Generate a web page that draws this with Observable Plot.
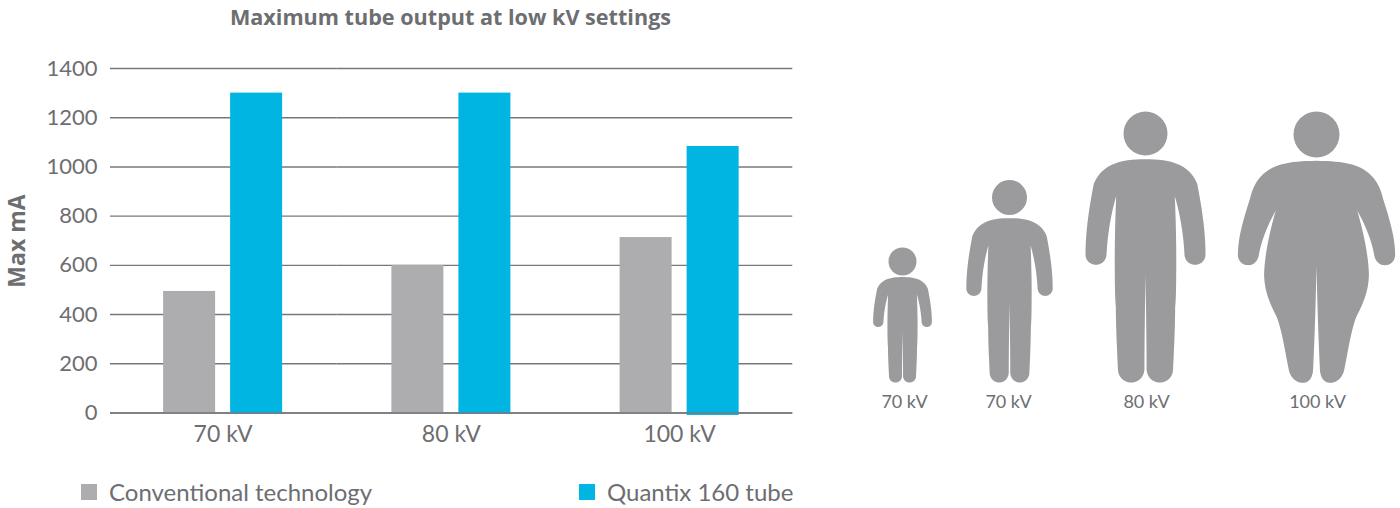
<!DOCTYPE html>
<html>
<head>
<meta charset="utf-8">
<script src="https://cdn.jsdelivr.net/npm/d3@7"></script>
<script src="https://cdn.jsdelivr.net/npm/@observablehq/plot@0.6"></script>
<style>
  html,body{margin:0;padding:0;background:#fff;}
  body{width:1400px;height:508px;position:relative;overflow:hidden;font-family:Lato,"Noto Sans",sans-serif;color:#6d6e71;}
  #title{position:absolute;left:0;top:4px;width:901px;text-align:center;font-family:"Open Sans",sans-serif;font-weight:700;font-size:21.6px;line-height:26px;color:#6d6e71;}
  #ylabel{position:absolute;left:5px;top:241px;transform:translate(0,-50%) rotate(180deg);writing-mode:vertical-rl;font-family:"Open Sans",sans-serif;font-weight:700;font-size:23px;color:#6d6e71;line-height:22px;}
  #row{position:absolute;left:0;top:36px;display:flex;}
  #row svg{display:block;}
  .lg{position:absolute;top:478px;display:flex;align-items:center;font-size:24px;line-height:28px;color:#6d6e71;}
  .lg i{display:block;width:16px;height:16px;margin-right:12px;}
</style>
</head>
<body>
<div id="title"></div>
<div id="ylabel"></div>
<div id="row"></div>
<div id="legend"></div>
<script>
const chartTitle = "Maximum tube output at low kV settings";
const yTitle = "Max mA";
const categories = ["70 kV", "80 kV", "100 kV"];
const seriesNames = ["Conventional technology", "Quantix 160 tube"];
const conventional = [494, 600, 713];
const quantix = [1300, 1300, 1083];
const quantixBase = [-5, -5, -10];
const yTicks = [0, 200, 400, 600, 800, 1000, 1200, 1400];
const seriesColors = ["#adadb0", "#00b5e2"];
const textColor = "#6d6e71";
const figureColor = "#9b9b9d";

// Pictogram outlines (half-figure, mirrored)
const slimHalf = [[0,176],
 [60,176,125,185,150,250],[163,320,174,390,174,462],[174,480,160,493,144,493],
 [127,493,114,480,113,462],[110,400,100,340,85,287],[88,360,90,450,89,520],
 [89,560,88,600,86,620],[86,680,82,760,80,805],[80,830,62,846,42,846],
 [20,846,4,830,3,805],[3,700,1,600,0,520]];
const fatHalf = [[0,181],
 [70,181,120,190,150,217],[175,238,186,265,193,295],[210,350,228,410,228,462],
 [228,482,215,494,198,494],[182,494,170,482,167,462],[160,420,140,370,118,330],
 [135,390,150,460,152,520],[152,570,135,610,115,650],[100,690,90,760,80,810],
 [75,832,58,847,40,847],[22,847,12,832,10,810],[5,700,2,600,0,495]];
const figureLabels = ["70 kV", "70 kV", "80 kV", "100 kV"];
const figureCx = [902, 1009, 1145, 1316];
const figureLabelX = [904, 1008, 1146, 1317];
const figureLabelY = [402, 402, 402, 402];
const figureHalves = [slimHalf, slimHalf, slimHalf, fatHalf];
const figureScale = [[0.49,0.472],[0.72,0.736],[1,1],[1,1]];
const headY = [261, 197, 133, 134];
const headR = [14, 17.5, 22, 23];

document.getElementById("title").textContent = chartTitle;
document.getElementById("ylabel").textContent = yTitle;

const rows = [];
categories.forEach((c, i) => {
  rows.push({cat: c, s: seriesNames[0], low: 0, high: conventional[i]});
  rows.push({cat: c, s: seriesNames[1], low: quantixBase[i], high: quantix[i]});
});

const rulesFor = (values) => categories.map((c, i) =>
  Plot.ruleY(values.map(v => ({c, v})), {
    fx: "c", y: "v", stroke: "#77787b", strokeWidth: 1.4,
    insetLeft: i === 0 ? 1.5 : 0, insetRight: i === categories.length - 1 ? 1 : 0
  }));

const chart = Plot.plot({
  width: 810, height: 414,
  marginLeft: 108.5, marginRight: 16.75, marginTop: 32, marginBottom: 37.5,
  style: {fontFamily: "Lato, 'Noto Sans', sans-serif", color: textColor, background: "transparent"},
  fx: {domain: categories, paddingInner: 0, paddingOuter: 0, round: false, label: null},
  x: {domain: seriesNames, paddingInner: 0.224, paddingOuter: 0.815, round: false, axis: null},
  y: {domain: [0, 1400], label: null},
  color: {domain: seriesNames, range: seriesColors},
  marks: [
    ...rulesFor(yTicks),
    Plot.barY(rows, {fx: "cat", x: "s", y1: "low", y2: "high", fill: "s"}),
    ...rulesFor([0]),
    Plot.axisY({ticks: yTicks, tickSize: 0, tickPadding: 11.5, tickFormat: d => String(d), label: null, fontSize: 22, fill: textColor}),
    Plot.axisFx({anchor: "bottom", tickSize: 0, tickPadding: 13, label: null, fontSize: 23, fill: textColor})
  ]
});

// Pictograms: drawn as Plot lines with a fill on identity scales
const sx = 1 / 2.9, sy = 1 / 3, ox = 810, oy = 36, footY = 846;
const outline = [];
figureHalves.forEach((half, f) => {
  const pts = [half[0]];
  let p = half[0];
  for (const s of half.slice(1)) {
    for (let k = 1; k <= 14; k++) {
      const t = k / 14, u = 1 - t;
      pts.push([
        u*u*u*p[0] + 3*u*u*t*s[0] + 3*u*t*t*s[2] + t*t*t*s[4],
        u*u*u*p[1] + 3*u*u*t*s[1] + 3*u*t*t*s[3] + t*t*t*s[5]
      ]);
    }
    p = [s[4], s[5]];
  }
  const mirrored = pts.slice().reverse().map(([x, y]) => [-x, y]);
  const [kx, ky] = figureScale[f];
  for (const [x, y] of pts.concat(mirrored)) {
    outline.push({
      f,
      px: figureCx[f] + x * kx * sx - ox,
      py: 100 + (footY - (footY - y) * ky) * sy - oy
    });
  }
});

const figures = Plot.plot({
  width: 590, height: 414,
  margin: 0,
  style: {fontFamily: "Lato, 'Noto Sans', sans-serif", background: "transparent"},
  x: {type: "identity", axis: null},
  y: {type: "identity", axis: null},
  marks: [
    Plot.line(outline, {x: "px", y: "py", z: "f", fill: figureColor, stroke: "none"}),
    ...figureCx.map((cx, i) => Plot.dot([i], {
      x: () => cx - ox, y: () => headY[i] - oy, r: headR[i], fill: figureColor, stroke: "none"
    })),
    Plot.text(figureLabels, {
      x: (d, i) => figureLabelX[i] - ox, y: (d, i) => figureLabelY[i] - oy,
      text: d => d, fontSize: 18, fill: textColor
    })
  ]
});

document.getElementById("row").append(chart, figures);

const legendX = [81, 579];
const legend = document.getElementById("legend");
seriesNames.forEach((n, i) => {
  const el = document.createElement("div");
  el.className = "lg";
  el.style.left = legendX[i] + "px";
  const sw = document.createElement("i");
  sw.style.background = seriesColors[i];
  el.append(sw, document.createTextNode(n));
  legend.append(el);
});
</script>
</body>
</html>
